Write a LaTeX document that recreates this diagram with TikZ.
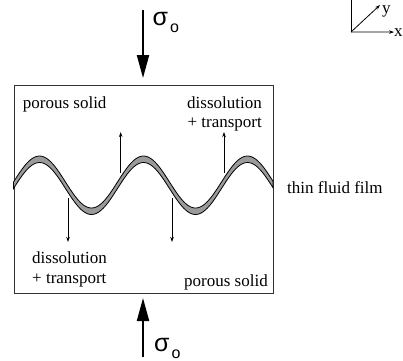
\documentclass[tikz,border=0pt]{standalone}
\usepackage{fontspec}
\setmainfont{Liberation Serif}
\newfontfamily\sigmafont{Liberation Sans}
\usetikzlibrary{arrows.meta,positioning}
\definecolor{filmgray}{HTML}{9A9A9A}
\definecolor{edgegray}{HTML}{333333}
\newcommand{\sigmaload}{{\sigmafont\fontsize{25}{25}\selectfont σ\kern2pt\raisebox{-6.5pt}{\fontsize{16}{16}\selectfont o}}}

\begin{document}
\begin{tikzpicture}[
    x=1pt, y=-1pt,
    font=\fontsize{17}{19}\selectfont,
    label/.style={inner sep=0pt},
    load/.style={-{Triangle[length=23pt,width=12pt]}, line width=2pt},
    flux/.style={-{Stealth[length=5pt,width=3.5pt]}, line width=0.8pt},
    axis/.style={-{Stealth[length=5pt,width=3.5pt]}, line width=0.8pt}
  ]
    \useasboundingbox (0,0) rectangle (403,360);

    % porous solid block
    \node[draw=edgegray, line width=1.3pt, inner sep=0pt, anchor=north west,
      minimum width=259.5pt, minimum height=208pt] (block) at (13.5,85) {};

    % thin fluid film (period 104, 360/104 = 3.4615)
    \filldraw[fill=filmgray, draw=black, line width=0.8pt]
      plot[domain=13.5:273, samples=120, smooth] (\x, {182-26*sin(3.4615*(\x-13.5))})
      -- plot[domain=273:13.5, samples=120, smooth] (\x, {188.5-26*sin(3.4615*(\x-13.5))})
      -- cycle;

    % texts
    \node[label, anchor=base west] (solidtop) at (22.7,108) {porous solid};
    \node[label, anchor=base east] (disstop) at (262,108) {dissolution};
    \node[label, anchor=base east] (transtop) at (262,127) {+ transport};
    \node[label, anchor=base west] (film) at (287,193) {thin fluid film};
    \node[label, anchor=base west] (dissbot) at (32,263) {dissolution};
    \node[label, anchor=base west] (transbot) at (32,283) {+ transport};
    \node[label, anchor=base east] (solidbot) at (268,286) {porous solid};

    % applied stress
    \coordinate (loadtop) at (143,10);
    \coordinate (loadtoptip) at (143,78);
    \coordinate (loadbot) at (143,357);
    \coordinate (loadbottip) at (143,298);
    \node[label, anchor=base west] (sigmatop) at (152.5,25.5) {\sigmaload};
    \node[label, anchor=base west] (sigmabot) at (154,351.5) {\sigmaload};
    \draw[load] (loadtop) -- (loadtoptip);
    \draw[load] (loadbot) -- (loadbottip);

    % transport paths
    \coordinate (upa) at (120.7,173);
    \coordinate (upaend) at (120.7,132);
    \coordinate (upb) at (224,173);
    \coordinate (upbend) at (224,132);
    \coordinate (downa) at (68,198);
    \coordinate (downaend) at (68,242);
    \coordinate (downb) at (172,198);
    \coordinate (downbend) at (172,242);
    \draw[flux] (upa) -- (upaend);
    \draw[flux] (upb) -- (upbend);
    \draw[flux] (downa) -- (downaend);
    \draw[flux] (downb) -- (downbend);

    % axes
    \coordinate (origin) at (351,32);
    \coordinate (zend) at (351,-10);
    \coordinate (yend) at (380,5);
    \node[label, anchor=base west] (xlab) at (394,36) {x};
    \node[label, anchor=base west] (ylab) at (382,13) {y};
    \draw[axis] (origin) -- (xlab.west);
    \draw[axis] (origin) -- (yend);
    \draw[line width=0.8pt] (origin) -- (zend);
  \end{tikzpicture}
\end{document}
